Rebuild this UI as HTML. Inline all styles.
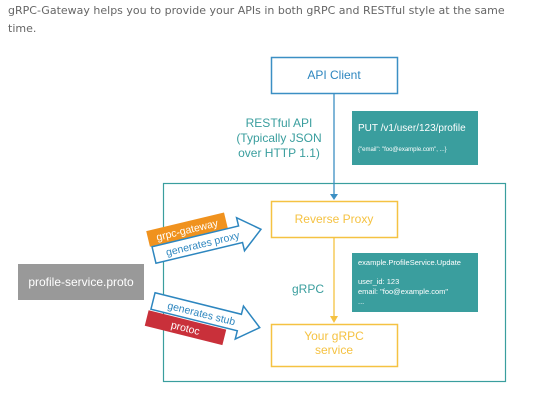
<!DOCTYPE html>
<html><head><meta charset="utf-8"><style>
html,body{margin:0;padding:0;background:#fff;width:538px;height:403px;overflow:hidden}
svg{display:block}
</style></head><body>
<svg width="538" height="403" viewBox="0 0 538 403" xmlns="http://www.w3.org/2000/svg" font-family="Liberation Sans, sans-serif">
<text x="8" y="14" font-family="DejaVu Sans, sans-serif" font-size="11" fill="#666">gRPC-Gateway helps you to provide your APIs in both gRPC and RESTful style at the same</text>
<text x="8" y="32" font-family="DejaVu Sans, sans-serif" font-size="11" fill="#666">time.</text>

<rect x="271.5" y="57.5" width="126" height="36" fill="#fff" stroke="#3b8fc4" stroke-width="1.5"/>
<text x="334" y="79" font-size="12" fill="#2d86bf" text-anchor="middle">API Client</text>

<text x="279" y="127" font-size="12" fill="#3a9e9e" text-anchor="middle">RESTful API</text>
<text x="279" y="142" font-size="12" fill="#3a9e9e" text-anchor="middle">(Typically JSON</text>
<text x="279" y="157" font-size="12" fill="#3a9e9e" text-anchor="middle">over HTTP 1.1)</text>

<rect x="352" y="111" width="126" height="54" fill="#3a9e9e"/>
<text x="358" y="131" font-size="10" fill="#fff">PUT /v1/user/123/profile</text>
<text x="358" y="151" font-size="6" fill="#fff">{"email": "foo@example.com", ...}</text>

<rect x="163.5" y="183.5" width="342" height="198" fill="none" stroke="#3a9e9e" stroke-width="1.2"/>

<line x1="334" y1="93" x2="334" y2="194" stroke="#3b8fc4" stroke-width="1.3"/>
<polygon points="330,194 338,194 334,200" fill="#3b8fc4"/>

<rect x="271.5" y="201.5" width="126" height="36" fill="#fff" stroke="#f5c242" stroke-width="1.5"/>
<text x="334" y="223" font-size="12" fill="#f5c242" text-anchor="middle">Reverse Proxy</text>

<line x1="334" y1="238" x2="334" y2="316" stroke="#f5c242" stroke-width="1.3"/>
<polygon points="330,316 338,316 334,323" fill="#f5c242"/>
<text x="308" y="293" font-size="12" fill="#3a9e9e" text-anchor="middle">gRPC</text>

<rect x="352" y="253" width="126" height="59" fill="#3a9e9e"/>
<text x="358" y="265" font-size="7.5" fill="#fff">example.ProfileService.Update</text>
<text x="358" y="284" font-size="7.5" fill="#fff">user_id: 123</text>
<text x="358" y="294" font-size="7.5" fill="#fff">email: "foo@example.com"</text>
<text x="358" y="304" font-size="7.5" fill="#fff">...</text>

<rect x="271.5" y="324.5" width="126" height="42" fill="#fff" stroke="#f5c242" stroke-width="1.5"/>
<text x="334" y="340" font-size="12" fill="#f5c242" text-anchor="middle">Your gRPC</text>
<text x="334" y="354" font-size="12" fill="#f5c242" text-anchor="middle">service</text>

<rect x="18" y="264" width="126" height="36" fill="#999"/>
<text x="81" y="286" font-size="12" fill="#fff" text-anchor="middle">profile-service.proto</text>

<g transform="translate(154,255) rotate(-13.5)">
  <rect x="-2" y="-25" width="80" height="16" fill="#f0921e"/>
  <text x="38" y="-13" font-size="10.5" fill="#fff" text-anchor="middle">grpc-gateway</text>
  <polygon points="0,-8.5 89,-8.5 89,-17 110,0 89,17 89,8.5 0,8.5" fill="#fff" stroke="#2d86bf" stroke-width="1.5"/>
  <text x="50" y="4" font-size="10.5" fill="#2d86bf" text-anchor="middle">generates proxy</text>
</g>
<g transform="translate(153,301) rotate(14)">
  <polygon points="0,-8.5 89,-8.5 89,-17 110,0 89,17 89,8.5 0,8.5" fill="#fff" stroke="#2d86bf" stroke-width="1.5"/>
  <text x="50" y="4" font-size="10.5" fill="#2d86bf" text-anchor="middle">generates stub</text>
  <rect x="-2" y="10" width="80" height="16" fill="#c9303a"/>
  <text x="38" y="22" font-size="10.5" fill="#fff" text-anchor="middle">protoc</text>
</g>
</svg>
</body></html>
